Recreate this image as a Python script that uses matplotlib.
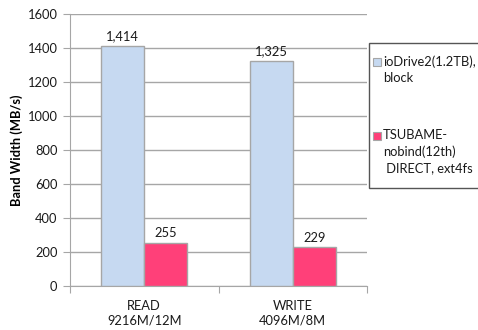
import matplotlib.pyplot as plt
from matplotlib.patches import Rectangle
import numpy as np

plt.rcParams['font.family'] = ['Lato', 'DejaVu Sans']

categories = ["READ\n9216M/12M", "WRITE\n4096M/8M"]
iodrive = [1414, 1325]
tsubame = [255, 229]
series_names = ["ioDrive2(1.2TB),\nblock", "TSUBAME-\nnobind(12th)\n DIRECT, ext4fs"]
colors = ["#C6D9F1", "#FF4079"]

W, H = 478, 330
fs = 9.3
fig = plt.figure(figsize=(W / 100, H / 100), dpi=100)
ax = fig.add_axes([70 / W, 1 - 286 / H, 297 / W, 272 / H])

x = np.arange(len(categories))
bw = 0.29
gray = "#A6A6A6"
b1 = ax.bar(x - bw / 2, iodrive, bw, color=colors[0], edgecolor=gray, linewidth=1, zorder=3)
b2 = ax.bar(x + bw / 2, tsubame, bw, color=colors[1], edgecolor=gray, linewidth=1, zorder=3)

for bars, vals in ((b1, iodrive), (b2, tsubame)):
    for r, v in zip(bars, vals):
        ax.annotate(f"{v:,}", (r.get_x() + r.get_width() / 2, v), xytext=(0, 2.5),
                    textcoords="offset points", ha="center", va="bottom",
                    fontsize=fs, color="#1a1a1a")

ax.set_xlim(-0.5, len(categories) - 0.5)
ax.set_ylim(0, 1600)
ax.set_yticks(np.arange(0, 1601, 200))
ax.yaxis.grid(True, color=gray, linewidth=1, zorder=0)
ax.set_axisbelow(True)

# category boundaries get the tick marks, labels sit between them
ax.set_xticks(np.arange(-0.5, len(categories), 1.0))
ax.set_xticklabels([])
ax.set_xticks(x, minor=True)
ax.set_xticklabels(categories, minor=True, fontsize=fs, linespacing=1.25, color="#1a1a1a")
ax.tick_params(axis="x", which="major", length=5, color=gray)
ax.tick_params(axis="x", which="minor", length=0, pad=10)
ax.tick_params(axis="y", length=5, color=gray, labelsize=fs, labelcolor="#1a1a1a", pad=4)

for s in ("top", "right"):
    ax.spines[s].set_visible(False)
for s in ("left", "bottom"):
    ax.spines[s].set_color(gray)

ax.set_ylabel("Band Width (MB/s)", fontsize=fs, fontweight="bold", labelpad=3)

# legend box drawn by hand so the swatch lines up with the first text line
fig.patches.append(Rectangle((369 / W, 1 - 188 / H), 115 / W, 145 / H,
                             transform=fig.transFigure, facecolor="white",
                             edgecolor="#555555", linewidth=1, zorder=5))
for i, (name, c) in enumerate(zip(series_names, colors)):
    top = 57 + i * 74
    fig.patches.append(Rectangle((373 / W, 1 - (top + 9) / H), 8 / W, 8 / H,
                                 transform=fig.transFigure, facecolor=c,
                                 edgecolor=gray, linewidth=0.8, zorder=6))
    fig.text(383 / W, 1 - (top - 2) / H, name, ha="left", va="top",
             fontsize=fs, linespacing=1.4, color="#1a1a1a", zorder=7)

fig.savefig("out.png", dpi=100)
